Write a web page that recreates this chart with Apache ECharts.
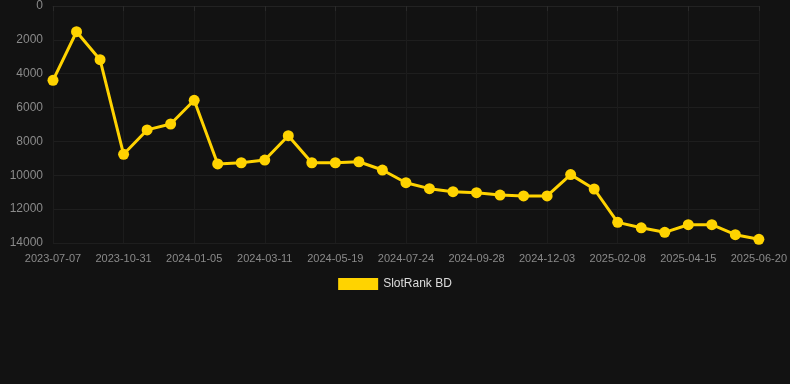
<!DOCTYPE html>
<html>
<head>
<meta charset="utf-8">
<script src="https://cdn.jsdelivr.net/npm/echarts@6/dist/echarts.min.js"></script>
<style>
  html, body { margin: 0; padding: 0; background: #121212; }
  #chart { width: 790px; height: 384px; }
</style>
</head>
<body>
<div id="chart"></div>
<script>
const dates = [
  '2023-07-07', '2023-08-15', '2023-09-22', '2023-10-31', '2023-11-22', '2023-12-14',
  '2024-01-05', '2024-01-27', '2024-02-18', '2024-03-11', '2024-04-03', '2024-04-26',
  '2024-05-19', '2024-06-10', '2024-07-02', '2024-07-24', '2024-08-15', '2024-09-06',
  '2024-09-28', '2024-10-20', '2024-11-11', '2024-12-03', '2024-12-25', '2025-01-17',
  '2025-02-08', '2025-03-02', '2025-03-24', '2025-04-15', '2025-05-07', '2025-05-29',
  '2025-06-20'
];
const slotRank = [
  4390, 1520, 3170, 8760, 7320, 6970,
  5570, 9330, 9260, 9100, 7660, 9260,
  9260, 9200, 9690, 10440, 10790, 10970,
  11030, 11170, 11220, 11220, 9960, 10810,
  12780, 13100, 13370, 12920, 12920, 13510,
  13780
];
const seriesName = 'SlotRank BD';

const myChart = echarts.init(document.getElementById('chart'));
const option = {
  backgroundColor: '#121212',
  animation: false,
  textStyle: { fontFamily: 'Arial, "Liberation Sans", sans-serif' },
  grid: { left: 53, right: 28, top: 6, bottom: 141, containLabel: false },
  legend: {
    bottom: 89,
    left: 'center',
    itemWidth: 40,
    itemHeight: 12,
    itemGap: 6,
    icon: 'rect',
    textStyle: { color: '#dddddd', fontSize: 12 },
    data: [seriesName]
  },
  xAxis: {
    type: 'category',
    data: dates,
    boundaryGap: false,
    axisLine: { show: true, lineStyle: { color: '#222222' } },
    axisTick: { show: true, alignWithLabel: true, interval: 2, lineStyle: { color: '#2a2a2a' } },
    axisLabel: { color: '#8a8a8a', fontSize: 11, interval: 2, margin: 10 },
    splitLine: { show: true, interval: 2, lineStyle: { color: '#1c1c1c' } }
  },
  yAxis: {
    type: 'value',
    inverse: true,
    min: 0,
    max: 14000,
    interval: 2000,
    axisLine: { show: false },
    axisTick: { show: false },
    axisLabel: { color: '#8a8a8a', fontSize: 12, margin: 10, formatter: (v) => String(v) },
    splitLine: { lineStyle: { color: '#1e1e1e' } }
  },
  series: [{
    name: seriesName,
    type: 'line',
    data: slotRank,
    symbol: 'circle',
    symbolSize: 11,
    itemStyle: { color: '#FFD300' },
    lineStyle: { color: '#FFD300', width: 3 }
  }]
};
myChart.setOption(option);
window.onresize = () => { myChart.resize(); };
</script>
</body>
</html>
